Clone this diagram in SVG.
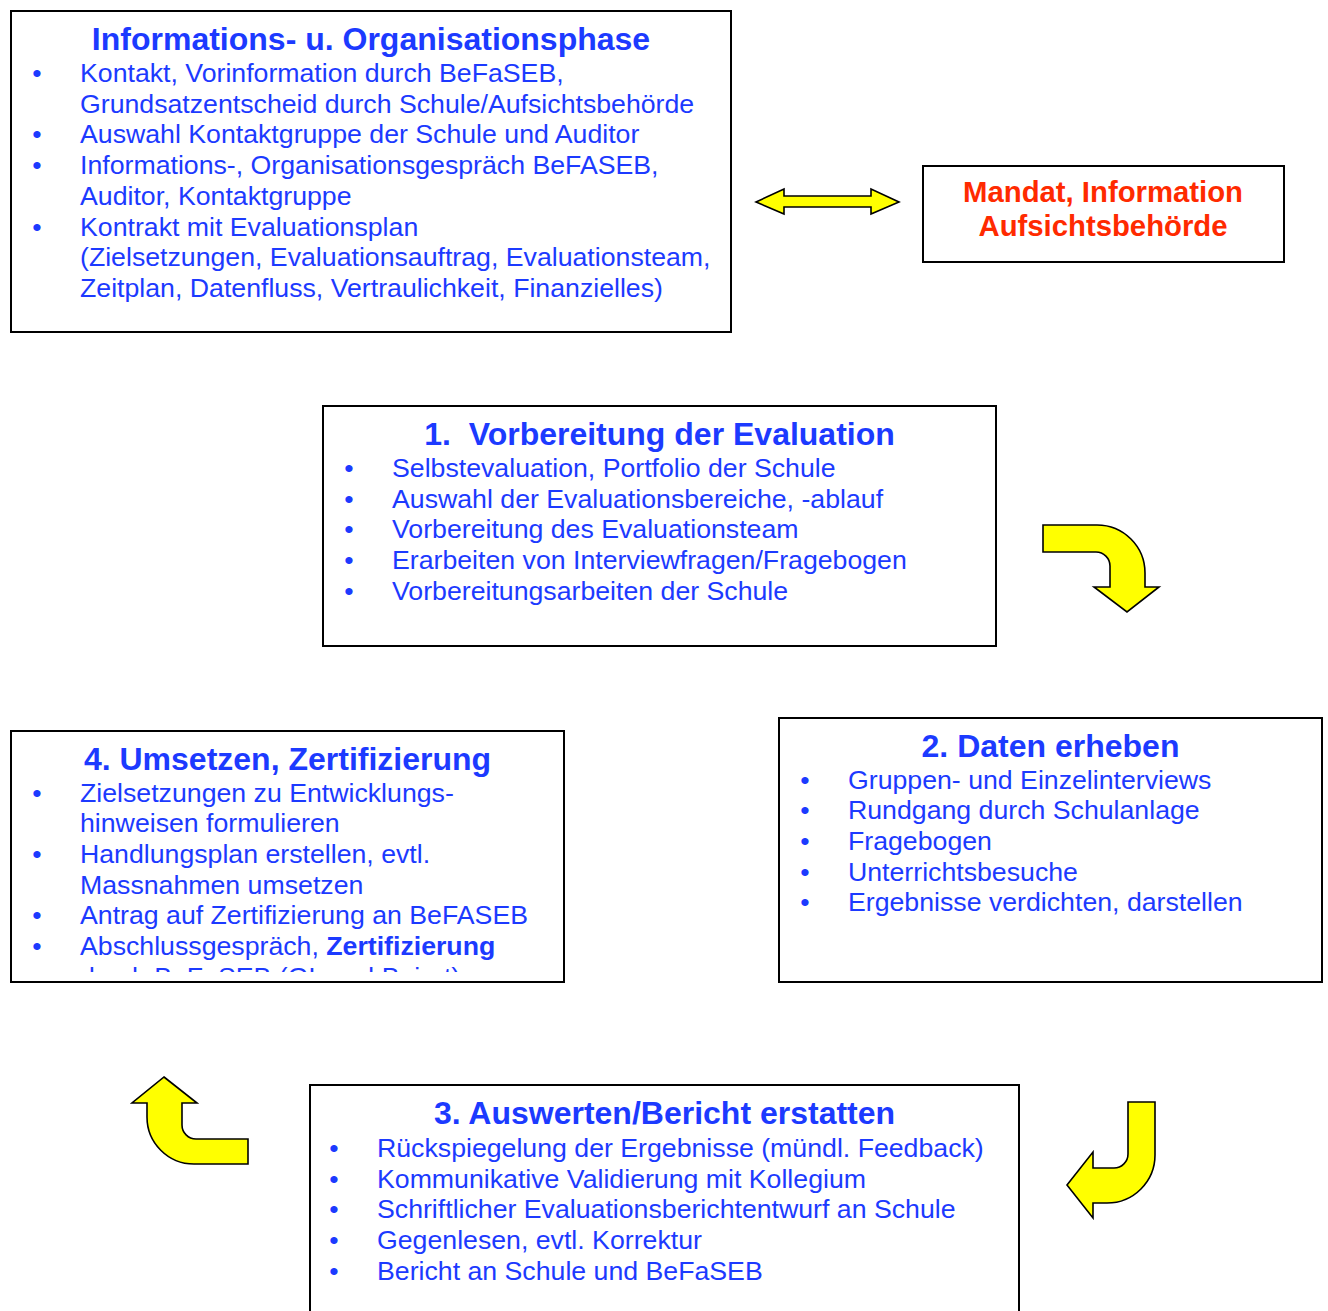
<svg xmlns="http://www.w3.org/2000/svg" width="1328" height="1311" viewBox="0 0 1328 1311">
<style>
.box{fill:#fff;stroke:#000;stroke-width:2}
.t{font-family:"Liberation Sans",Arial,sans-serif;fill:#1c3aff;font-size:26.7px}
.h{font-family:"Liberation Sans",Arial,sans-serif;fill:#1c3aff;font-size:32px;font-weight:bold;text-anchor:middle;white-space:pre}
.b{font-family:"Liberation Sans",Arial,sans-serif;fill:#1c3aff;font-size:26.7px;text-anchor:middle}
.r{font-family:"Liberation Sans",Arial,sans-serif;fill:#ff2a00;font-size:29.3px;font-weight:bold;text-anchor:middle}
.arr{fill:#ffff00;stroke:#000;stroke-width:1.6;stroke-linejoin:miter}
</style>
<defs>
<clipPath id="clip4"><rect x="11" y="731" width="553" height="241"/></clipPath>
</defs>
<rect width="1328" height="1311" fill="#fff"/>

<g id="info">
<rect class="box" x="11" y="11" width="720" height="321"/>
<text class="h" x="371" y="50">Informations- u. Organisationsphase</text>
<text class="b" x="37" y="82">•</text>
<text class="t" x="80" y="82">Kontakt, Vorinformation durch BeFaSEB,</text>
<text class="t" x="80" y="112.7">Grundsatzentscheid durch Schule/Aufsichtsbehörde</text>
<text class="b" x="37" y="143.4">•</text>
<text class="t" x="80" y="143.4">Auswahl Kontaktgruppe der Schule und Auditor</text>
<text class="b" x="37" y="174.1">•</text>
<text class="t" x="80" y="174.1">Informations-, Organisationsgespräch BeFASEB,</text>
<text class="t" x="80" y="204.8">Auditor, Kontaktgruppe</text>
<text class="b" x="37" y="235.5">•</text>
<text class="t" x="80" y="235.5">Kontrakt mit Evaluationsplan</text>
<text class="t" x="80" y="266.2">(Zielsetzungen, Evaluationsauftrag, Evaluationsteam,</text>
<text class="t" x="80" y="296.9">Zeitplan, Datenfluss, Vertraulichkeit, Finanzielles)</text>
</g>

<g id="mandat">
<rect class="box" x="923" y="166" width="361" height="96"/>
<text class="r" x="1103" y="202">Mandat, Information</text>
<text class="r" x="1103" y="235.5">Aufsichtsbehörde</text>
</g>

<g id="phase1">
<rect class="box" x="323" y="406" width="673" height="240"/>
<text class="h" x="659.5" y="445">1.  Vorbereitung der Evaluation</text>
<text class="b" x="349" y="477">•</text>
<text class="t" x="392" y="477">Selbstevaluation, Portfolio der Schule</text>
<text class="b" x="349" y="507.7">•</text>
<text class="t" x="392" y="507.7">Auswahl der Evaluationsbereiche, -ablauf</text>
<text class="b" x="349" y="538.4">•</text>
<text class="t" x="392" y="538.4">Vorbereitung des Evaluationsteam</text>
<text class="b" x="349" y="569.1">•</text>
<text class="t" x="392" y="569.1">Erarbeiten von Interviewfragen/Fragebogen</text>
<text class="b" x="349" y="599.8">•</text>
<text class="t" x="392" y="599.8">Vorbereitungsarbeiten der Schule</text>
</g>

<g id="phase2">
<rect class="box" x="779" y="718" width="543" height="264"/>
<text class="h" x="1050.5" y="757">2. Daten erheben</text>
<text class="b" x="805" y="788.5">•</text>
<text class="t" x="848" y="788.5">Gruppen- und Einzelinterviews</text>
<text class="b" x="805" y="819.2">•</text>
<text class="t" x="848" y="819.2">Rundgang durch Schulanlage</text>
<text class="b" x="805" y="849.9">•</text>
<text class="t" x="848" y="849.9">Fragebogen</text>
<text class="b" x="805" y="880.6">•</text>
<text class="t" x="848" y="880.6">Unterrichtsbesuche</text>
<text class="b" x="805" y="911.3">•</text>
<text class="t" x="848" y="911.3">Ergebnisse verdichten, darstellen</text>
</g>

<g id="phase4">
<rect class="box" x="11" y="731" width="553" height="251"/>
<text class="h" x="287.5" y="770">4. Umsetzen, Zertifizierung</text>
<g clip-path="url(#clip4)">
<text class="b" x="37" y="801.5">•</text>
<text class="t" x="80" y="801.5">Zielsetzungen zu Entwicklungs-</text>
<text class="t" x="80" y="832.2">hinweisen formulieren</text>
<text class="b" x="37" y="862.9">•</text>
<text class="t" x="80" y="862.9">Handlungsplan erstellen, evtl.</text>
<text class="t" x="80" y="893.6">Massnahmen umsetzen</text>
<text class="b" x="37" y="924.3">•</text>
<text class="t" x="80" y="924.3">Antrag auf Zertifizierung an BeFASEB</text>
<text class="b" x="37" y="955">•</text>
<text class="t" x="80" y="955">Abschlussgespräch, <tspan font-weight="bold">Zertifizierung</tspan></text>
<text class="t" x="80" y="985.7">durch BeFaSEB (GL und Beirat)</text>
</g>
</g>

<g id="phase3">
<rect class="box" x="310" y="1085" width="709" height="240"/>
<text class="h" x="664.5" y="1124">3. Auswerten/Bericht erstatten</text>
<text class="b" x="334" y="1157">•</text>
<text class="t" x="377" y="1157">Rückspiegelung der Ergebnisse (mündl. Feedback)</text>
<text class="b" x="334" y="1187.7">•</text>
<text class="t" x="377" y="1187.7">Kommunikative Validierung mit Kollegium</text>
<text class="b" x="334" y="1218.4">•</text>
<text class="t" x="377" y="1218.4">Schriftlicher Evaluationsberichtentwurf an Schule</text>
<text class="b" x="334" y="1249.1">•</text>
<text class="t" x="377" y="1249.1">Gegenlesen, evtl. Korrektur</text>
<text class="b" x="334" y="1279.8">•</text>
<text class="t" x="377" y="1279.8">Bericht an Schule und BeFaSEB</text>
</g>

<g id="connectors">
<path class="arr" d="M756,202 L784,189 L784,196 L871,196 L871,189 L899,202 L871,214 L871,207 L784,207 L784,214 Z"/>
<path class="arr" d="M1043,525 L1097,525 A48,48 0 0 1 1145,573 L1145,587 L1159,587 L1127,612 L1094,587 L1110,587 L1110,566 A14,14 0 0 0 1096,552 L1043,552 Z"/>
<path class="arr" d="M1128,1102 L1155,1102 L1155,1155 A48,48 0 0 1 1107,1203 L1093,1203 L1093,1218 L1067,1185 L1093,1152 L1093,1168 L1114,1168 A14,14 0 0 0 1128,1154 Z"/>
<path class="arr" d="M164,1077 L197,1103 L182,1103 L182,1125 A14,14 0 0 0 196,1139 L248,1139 L248,1164 L194,1164 A47,47 0 0 1 147,1117 L147,1103 L132,1103 Z"/>
</g>
</svg>
